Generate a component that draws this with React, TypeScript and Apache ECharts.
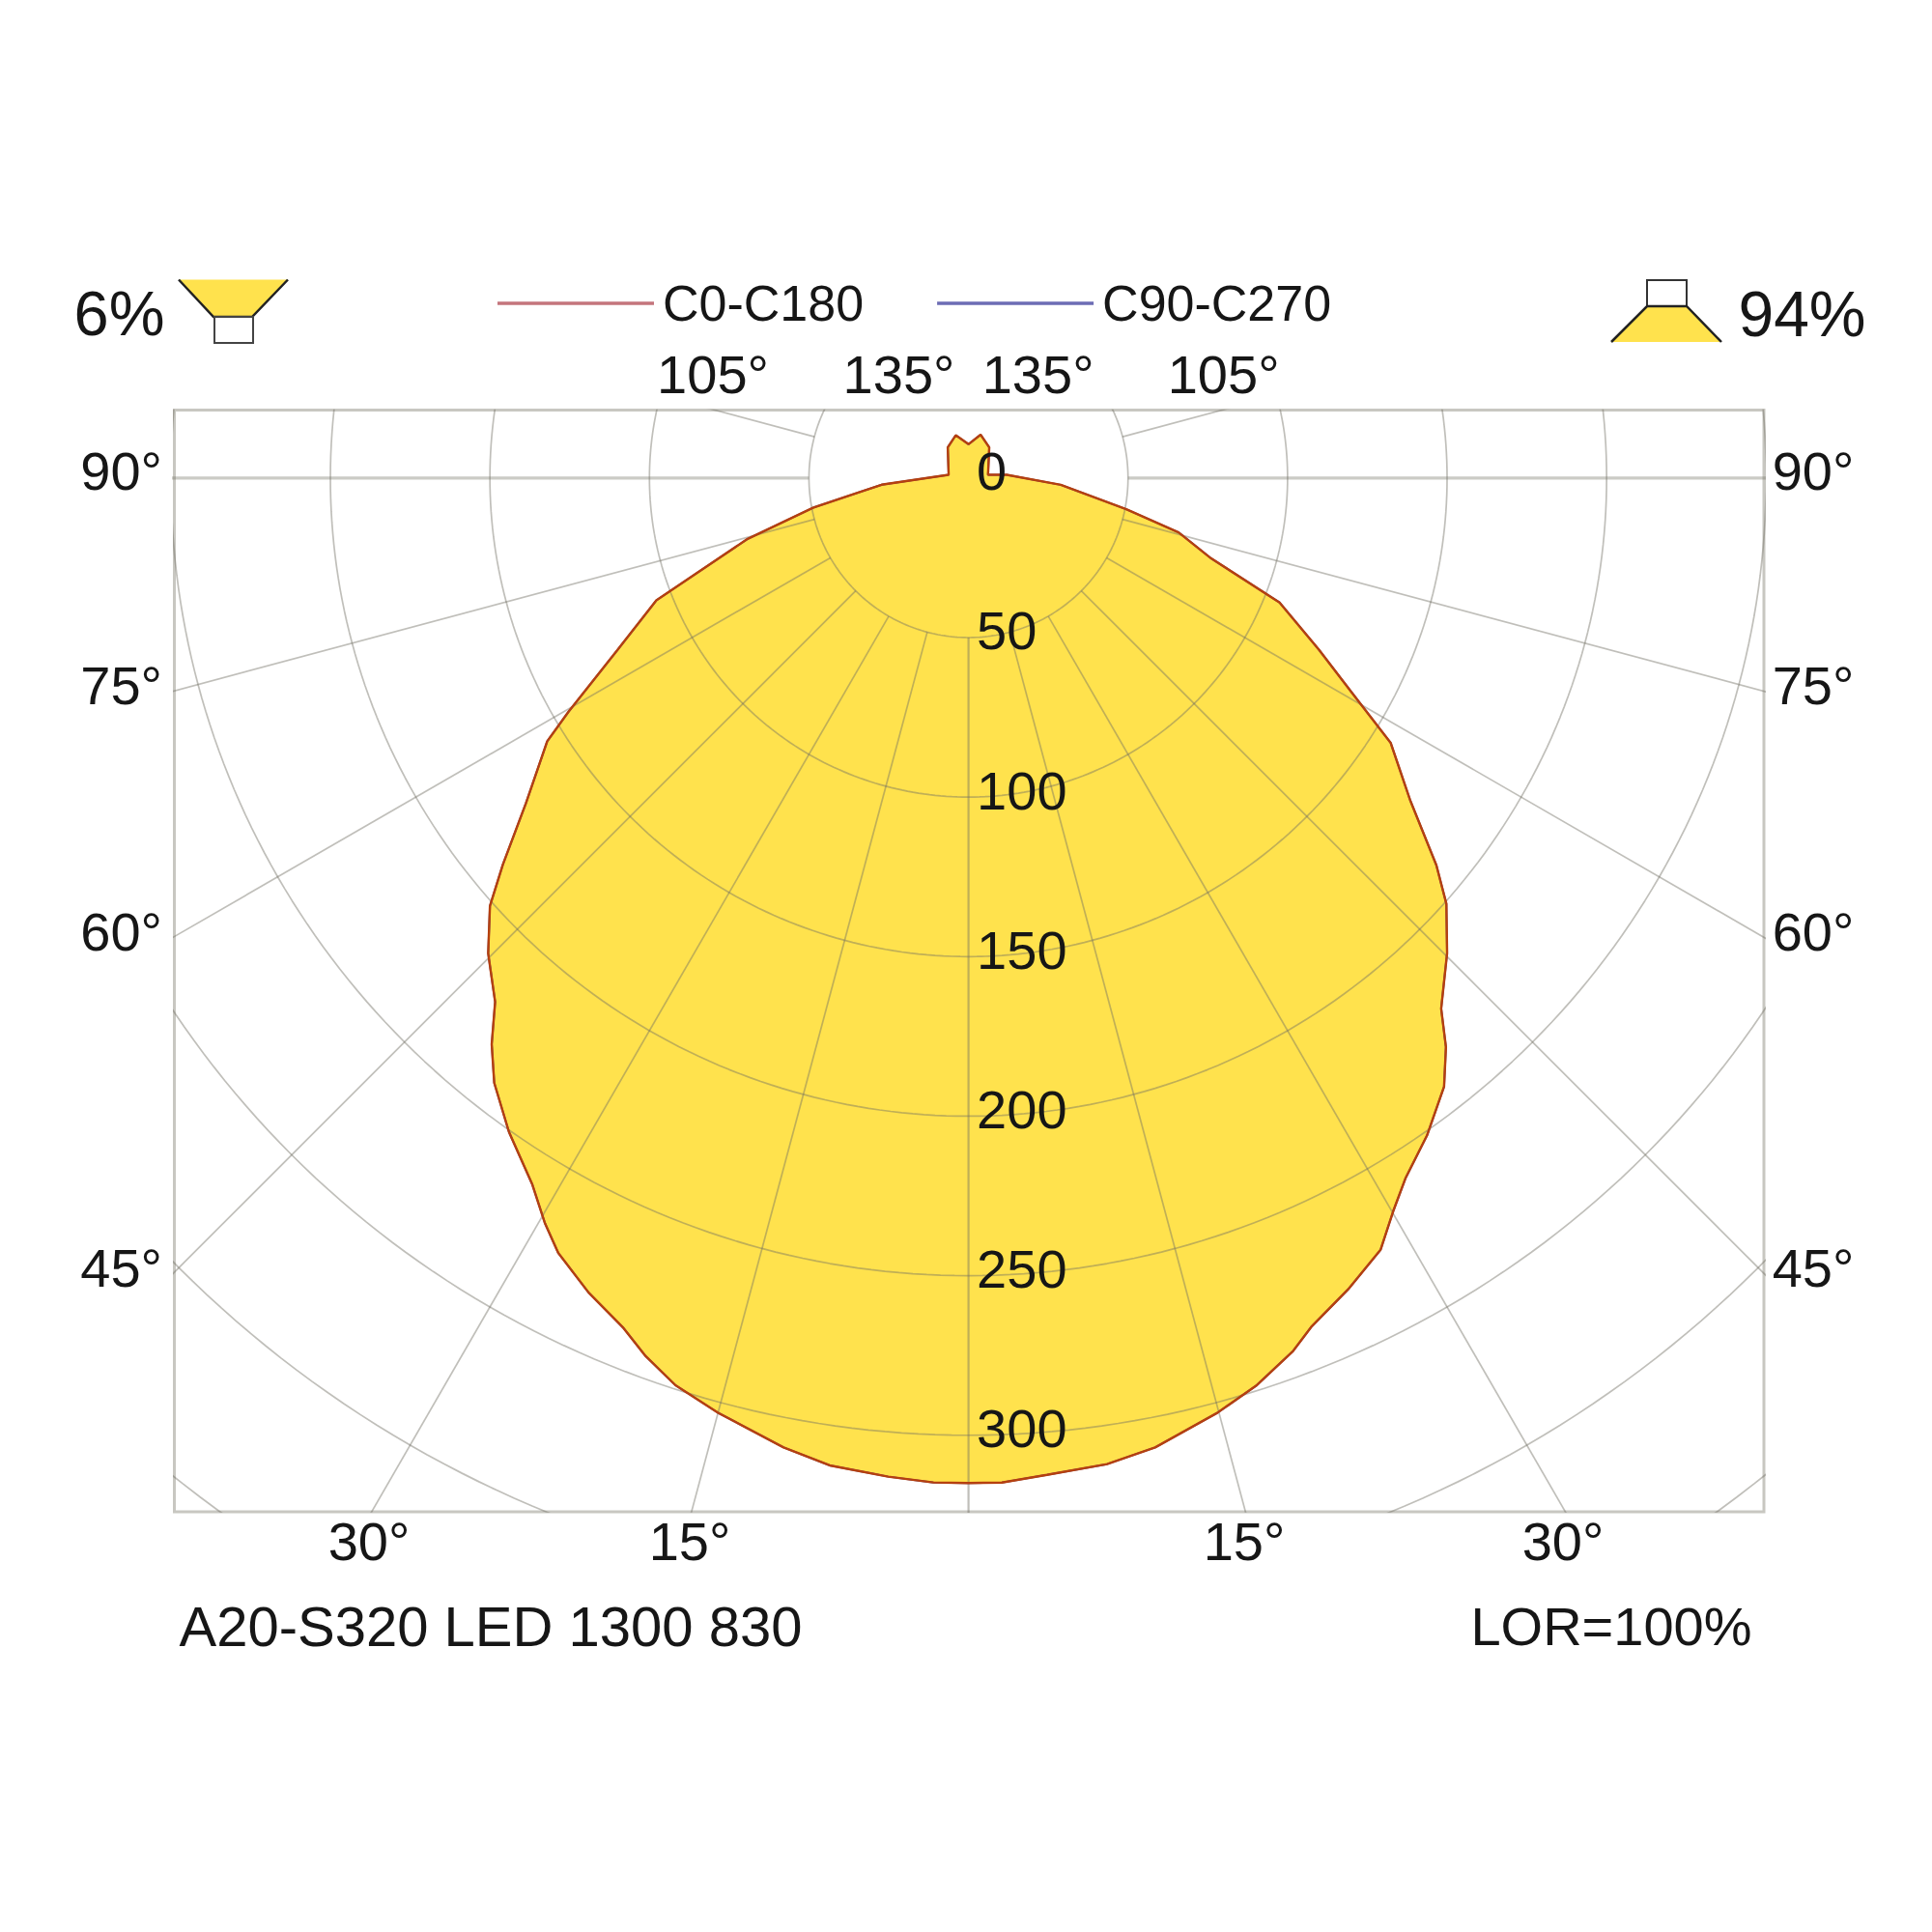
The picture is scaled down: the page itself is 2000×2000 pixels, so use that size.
import React, { useEffect, useRef } from "react";
import * as echarts from "echarts";

// luminous intensity (cd/klm), angle 0 is straight down
const leftAngles = [0, 2, 4.6, 8, 10.8, 15, 17.9, 20.2, 22.1, 25, 27.9, 29.6, 31.7, 35.1, 38.1, 40.1, 42.1, 45.3, 48.2, 50.3, 53.7, 58, 59.7, 63.9, 68.6, 74.6, 79.2, 85.6, 99.2, 145.9, 163.4, 180];
const leftValues = [315, 315, 314, 312.5, 309.3, 303.3, 298.8, 293.2, 287.5, 281.7, 274.8, 268.7, 260.2, 250.5, 240.9, 232, 221.3, 211.8, 201.2, 189.7, 172.1, 155.7, 145.2, 122.5, 105.1, 71.8, 49.6, 27.3, 6.3, 11.6, 14, 10.6];
const rightAngles = [0, 1.9, 4.5, 8, 10.9, 14.9, 17.6, 20.4, 22, 25.1, 28.1, 30.1, 32, 34.9, 38, 40, 41.7, 45.2, 48.3, 50.4, 53.9, 57.9, 60.8, 63.9, 68.2, 71.7, 75.5, 78.8, 85.8, 94.8, 99.3, 145.9, 164.4, 180];
const rightValues = [315, 315, 313.4, 312.1, 309.4, 303.2, 298.4, 291.9, 286.9, 280.7, 274.2, 265.5, 258.6, 251.2, 242.1, 232.8, 222.7, 211.4, 200.6, 190.3, 171.3, 156.2, 137.5, 122.3, 105, 80, 68, 50.4, 29, 12, 6.2, 11.6, 14.1, 10.6];

const radiusTicks = [0, 50, 100, 150, 200, 250, 300];
const gridRadii = [50, 100, 150, 200, 250, 300, 350, 400];
const spokeAngles = [15, 30, 45, 60, 75, 90, 105];
const seriesNames = ["C0-C180", "C90-C270"];

const sideAngleLabels = ["90°", "75°", "60°", "45°"];
const topAngleLabels = ["105°", "135°", "135°", "105°"];
const bottomAngleLabels = ["30°", "15°", "15°", "30°"];

const FONT = "Liberation Sans";
const TEXT = "#161616";
const FILL = "#ffe24d";

const toXY = (deg: number, r: number, side: number) => {
  const a = (deg * Math.PI) / 180;
  return [side * r * Math.sin(a), r * Math.cos(a)];
};

const outline = [
  ...leftAngles.map((a, i) => toXY(a, leftValues[i], -1)),
  ...rightAngles.map((a, i) => toXY(a, rightValues[i], 1)).reverse(),
];

const gridLine = (name: string, data: number[][], width: number, alpha = 0.44) => ({
  type: "line",
  name,
  data,
  symbol: "none",
  silent: true,
  clip: true,
  z: 2,
  lineStyle: { color: `rgba(112,110,98,${alpha})`, width },
});

const circleSteps = Array.from({ length: 361 }, (_, i) => i);

const label = (text: string, x: number, y: number, fontSize: number) => ({
  type: "text",
  x,
  y,
  style: { text, fontSize, fontFamily: FONT, fill: TEXT, align: "center", verticalAlign: "middle" },
});

const App = () => {
  const chartRef = useRef<HTMLDivElement>(null);

  useEffect(() => {
    const chart = echarts.init(chartRef.current as HTMLDivElement, undefined, { renderer: "svg" });

    const arcs = gridRadii.map((r) => gridLine(`r${r}`, circleSteps.map((a) => toXY(a, r, 1)), 1.7));
    const spokes = [-1, 1].flatMap((side) =>
      spokeAngles.map((a) =>
        a === 90
          ? gridLine(`s${side}${a}`, [toXY(a, 50, side), toXY(a, 430, side)], 3.2, 0.36)
          : gridLine(`s${side}${a}`, [toXY(a, 50, side), toXY(a, 430, side)], 1.7)
      )
    );
    const centreSpoke = gridLine("s0", [toXY(0, 50, 1), toXY(0, 430, 1)], 2.2);

    const option = {
      animation: false,
      backgroundColor: "#fff",
      grid: {
        show: true,
        left: 180.5,
        top: 424.5,
        width: 1645.5,
        height: 1140.5,
        borderColor: "#c8c7c1",
        borderWidth: 3,
      },
      xAxis: { type: "value", show: false, min: -248.9, max: 249.3 },
      yAxis: { type: "value", show: false, inverse: true, min: -21.3, max: 324 },
      legend: {
        left: 510,
        top: 283,
        icon: "rect",
        itemWidth: 162,
        itemHeight: 3.5,
        itemGap: 76,
        selectedMode: false,
        textStyle: { fontFamily: FONT, fontSize: 52, color: TEXT, padding: [0, 0, 0, 4] },
        data: [
          { name: seriesNames[0], itemStyle: { color: "#c4757c" } },
          { name: seriesNames[1], itemStyle: { color: "#6c6cb4" } },
        ],
      },
      series: [
        {
          type: "custom",
          name: "fill",
          z: 1,
          silent: true,
          data: [[0, 0]],
          renderItem: (_: any, api: any) => ({
            type: "polygon",
            shape: { points: outline.map((p) => api.coord(p)) },
            style: { fill: FILL },
          }),
        },
        ...arcs,
        ...spokes,
        centreSpoke,
        {
          type: "line",
          name: seriesNames[1],
          data: [...outline, outline[0]],
          symbol: "none",
          silent: true,
          z: 3,
          lineStyle: { color: "#5a4a90", width: 2 },
        },
        {
          type: "line",
          name: seriesNames[0],
          data: [...outline, outline[0]],
          symbol: "none",
          silent: true,
          z: 3,
          lineStyle: { color: "#b5400f", width: 2.4 },
        },
        {
          type: "scatter",
          name: "ticks",
          data: radiusTicks.map((r) => [0, r]),
          symbolSize: 1,
          silent: true,
          z: 4,
          itemStyle: { color: "transparent", opacity: 1 },
          label: {
            show: true,
            position: "right",
            distance: 8,
            offset: [0, -7],
            fontFamily: FONT,
            fontSize: 56,
            color: TEXT,
            opacity: 1,
            formatter: (p: any) => String(p.value[1]),
          },
        },
      ],
      graphic: [
        // side, top and bottom angle labels
        ...sideAngleLabels.map((t, i) => label(t, 125.6, [487, 709, 964, 1312.5][i], 56)),
        ...sideAngleLabels.map((t, i) => label(t, 1877, [487, 709, 964, 1312.5][i], 56)),
        ...topAngleLabels.map((t, i) => label(t, [738, 930.5, 1074.6, 1266.6][i], 387.5, 56)),
        ...bottomAngleLabels.map((t, i) => label(t, [382, 714, 1288, 1618][i], 1595.5, 56)),
        label("6%", 123.5, 324.5, 65),
        label("94%", 1865.5, 324.5, 66),
        label("A20-S320 LED 1300 830", 508, 1683.5, 58),
        label("LOR=100%", 1668, 1683.5, 56),
        // downward light icon
        { type: "polygon", shape: { points: [[185, 289.5], [298, 289.5], [261, 328], [221, 328]] }, style: { fill: FILL } },
        { type: "polyline", shape: { points: [[185, 289.5], [221, 328], [261, 328], [298, 289.5]] }, style: { stroke: "#222", lineWidth: 2.5, fill: "none" } },
        { type: "rect", shape: { x: 222, y: 328, width: 40, height: 27 }, style: { fill: "#fff", stroke: "#444", lineWidth: 2 } },
        // upward light icon
        { type: "rect", shape: { x: 1705, y: 290, width: 41, height: 27 }, style: { fill: "#fff", stroke: "#333", lineWidth: 2 } },
        { type: "polygon", shape: { points: [[1705, 317], [1746, 317], [1782, 354], [1668, 354]] }, style: { fill: FILL } },
        { type: "polyline", shape: { points: [[1668, 354], [1705, 317], [1746, 317], [1782, 354]] }, style: { stroke: "#222", lineWidth: 2.5, fill: "none" } },
      ],
    };
    chart.setOption(option as any);

    return () => {
      chart.dispose();
    };
  }, []);

  return <div ref={chartRef} style={{ position: "absolute", left: 0, top: 0, width: 2000, height: 2000 }} />;
};

export default App;
